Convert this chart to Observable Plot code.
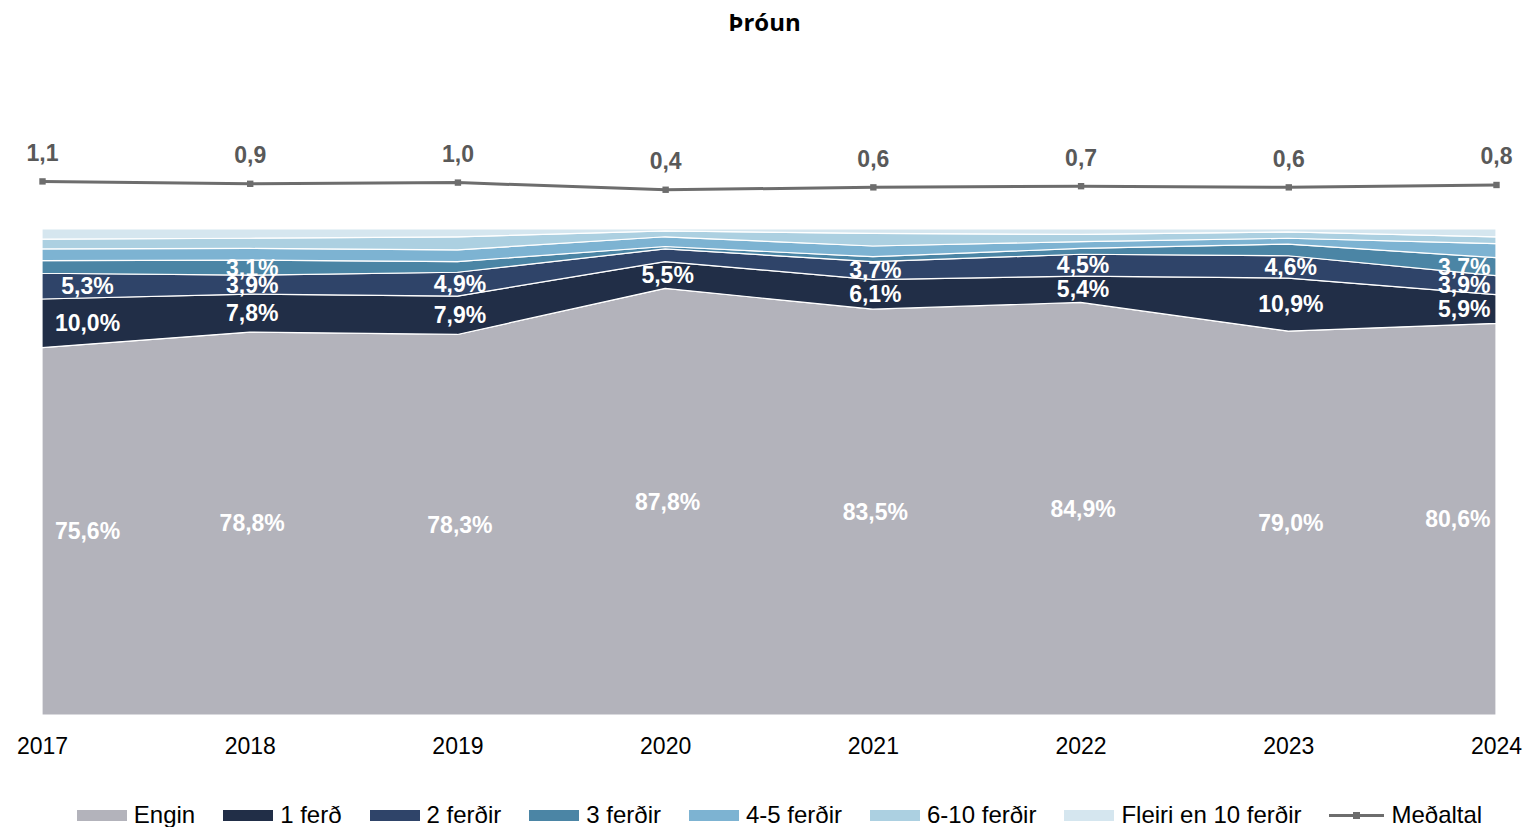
<!DOCTYPE html>
<html>
<head>
<meta charset="utf-8">
<script src="https://cdn.jsdelivr.net/npm/d3@7"></script>
<script src="https://cdn.jsdelivr.net/npm/@observablehq/plot@0.6"></script>
<style>
  html, body { margin: 0; padding: 0; background: #fff; }
  body { width: 1529px; height: 827px; overflow: hidden; font-family: "Liberation Sans", Arial, sans-serif; }
  #title { height: 44px; line-height: 44px; text-align: center; font-weight: bold; font-size: 24px; color: #000; font-family: "Open Sans", "Liberation Sans", Arial, sans-serif; }
  #legend { height: 48px; display: flex; justify-content: center; align-items: center; gap: 28px; font-size: 24px; color: #000; padding-left: 30px; box-sizing: border-box; }
  .item { display: flex; align-items: center; gap: 7px; white-space: nowrap; }
  .sw { width: 50px; height: 11px; }
  .ln { width: 55px; height: 11px; position: relative; }
  .ln::before { content: ""; position: absolute; left: 0; right: 0; top: 4px; height: 3px; background: #6d6d6d; }
  .ln::after { content: ""; position: absolute; left: 24px; top: 2px; width: 7px; height: 7px; background: #6d6d6d; }
</style>
</head>
<body>
<div id="title">Þróun</div>
<div id="chart"></div>
<div id="legend"></div>
<script>
const years = [2017, 2018, 2019, 2020, 2021, 2022, 2023, 2024];
const seriesNames = ["Engin", "1 ferð", "2 ferðir", "3 ferðir", "4-5 ferðir", "6-10 ferðir", "Fleiri en 10 ferðir"];
const seriesColors = ["#b3b3bb", "#212e47", "#2f4469", "#4b85a5", "#7db3d2", "#acd0e1", "#d5e6ef"];
const engin   = [75.6, 78.8, 78.3, 87.8, 83.5, 84.9, 79.0, 80.6];
const ferd1   = [10.0, 7.8, 7.9, 5.5, 6.1, 5.4, 10.9, 5.9];
const ferd2   = [5.3, 3.9, 4.9, 2.6, 3.7, 4.5, 4.6, 3.9];
const ferd3   = [2.6, 3.1, 2.2, 0.5, 1.0, 1.2, 2.4, 3.7];
const ferd45  = [2.4, 2.4, 2.4, 2.0, 2.2, 1.4, 1.2, 2.9];
const ferd610 = [2.0, 2.1, 2.7, 1.2, 2.6, 1.5, 1.3, 1.4];
const fleiri  = [2.1, 1.9, 1.6, 0.4, 0.9, 1.1, 0.6, 1.6];
const medaltal = [1.1, 0.9, 1.0, 0.4, 0.6, 0.7, 0.6, 0.8];
const avgLabel = "Meðaltal";

const seriesValues = [engin, ferd1, ferd2, ferd3, ferd45, ferd610, fleiri];
const table = [];
seriesNames.forEach((s, i) => years.forEach((y, j) => table.push({series: s, year: y, value: seriesValues[i][j]})));
const avgTable = years.map((y, j) => ({year: y, value: medaltal[j]}));

// secondary axis for the average, placed above the 100% stack
const y2 = d3.scaleLinear().domain([0, 1]).range([107.2, 109.65]);

const fmt = v => v.toFixed(1).replace(".", ",");
const pct = v => fmt(v) + "%";
const first = years[0], last = years[years.length - 1];
const labelText = pos => d => (d.value >= 3 && pos(d.year)) ? pct(d.value) : "";

const stackOpts = (pos) => Plot.stackY({
  x: "year", y: "value", z: "series", order: seriesNames,
  text: labelText(pos)
});

const W = 1529, H = 747;
const chart = Plot.plot({
  width: W, height: H,
  marginLeft: 42, marginRight: 33, marginTop: 0, marginBottom: 76,
  style: {fontFamily: "'Liberation Sans', Arial, sans-serif", background: "transparent"},
  x: {type: "linear", domain: [first, last], range: [42, 1496], label: null},
  y: {domain: [0, 100], range: [671, 185], axis: null},
  color: {domain: seriesNames, range: seriesColors},
  marks: [
    Plot.areaY(table, {x: "year", y: "value", fill: "series", order: seriesNames, stroke: "#ffffff", strokeWidth: 1.2}),
    Plot.text(table, {...stackOpts(y => y === first), fill: "#ffffff", fontWeight: "bold", fontSize: 23, dx: 45}),
    Plot.text(table, {...stackOpts(y => y !== first && y !== last), fill: "#ffffff", fontWeight: "bold", fontSize: 23, dx: 2}),
    Plot.text(table, {...stackOpts(y => y === last), fill: "#ffffff", fontWeight: "bold", fontSize: 23, textAnchor: "end", dx: -6}),
    Plot.line(avgTable, {x: "year", y: d => y2(d.value), stroke: "#6d6d6d", strokeWidth: 3}),
    Plot.dot(avgTable, {x: "year", y: d => y2(d.value), symbol: "square", r: 3.6, fill: "#6d6d6d"}),
    Plot.text(avgTable, {x: "year", y: d => y2(d.value), text: d => fmt(d.value), dy: -28, fill: "#595959", fontWeight: "bold", fontSize: 23}),
    Plot.axisX(years, {tickSize: 0, tickPadding: 22, fontSize: 23, fill: "#000", label: null, tickFormat: d => String(d)})
  ]
});
document.getElementById("chart").appendChild(chart);

const legend = document.getElementById("legend");
seriesNames.forEach((s, i) => {
  const it = document.createElement("div");
  it.className = "item";
  it.innerHTML = `<span class="sw" style="background:${seriesColors[i]}"></span><span>${s}</span>`;
  legend.appendChild(it);
});
const it = document.createElement("div");
it.className = "item";
it.innerHTML = `<span class="ln"></span><span>${avgLabel}</span>`;
legend.appendChild(it);
</script>
</body>
</html>
